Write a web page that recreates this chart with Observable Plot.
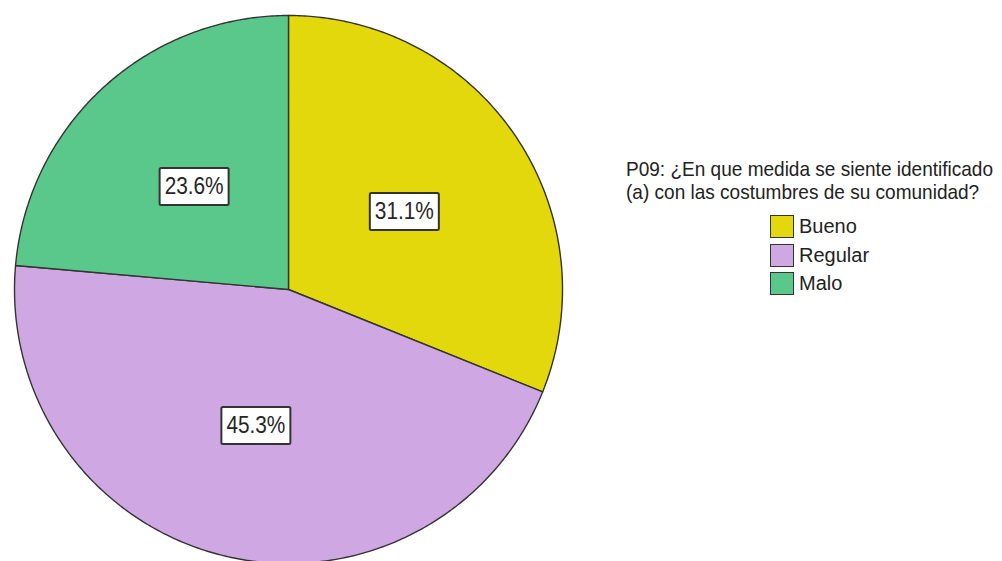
<!DOCTYPE html>
<html>
<head>
<meta charset="utf-8">
<script src="https://cdn.jsdelivr.net/npm/d3@7"></script>
<script src="https://cdn.jsdelivr.net/npm/@observablehq/plot@0.6"></script>
<style>
  html, body { margin: 0; padding: 0; background: #fff; }
  #wrap { position: relative; width: 1002px; height: 561px; overflow: hidden; font-family: "Liberation Sans", Arial, sans-serif; }
  #legend { position: absolute; left: 626px; top: 157px; color: #222; }
  #legend .title { font-size: 21px; line-height: 23px; white-space: nowrap; display: block; width: max-content; transform-origin: 0 50%; }
  #legend .item { position: absolute; left: 144px; height: 23px; white-space: nowrap; font-size: 20px; line-height: 23px; }
  #legend .sw { display: inline-block; width: 24px; height: 23px; border: 1.5px solid #333; vertical-align: top; margin-right: 5px; box-sizing: border-box; }
</style>
</head>
<body>
<div id="wrap"></div>
<script>
const categories = ["Bueno", "Regular", "Malo"];
const percents = [31.1, 45.3, 23.6];
const colors = ["#e3d80b", "#cfa8e3", "#5bc88b"];
const legendTitle = ["P09: ¿En que medida se siente identificado", "(a) con las costumbres de su comunidad?"];

const pie = d3.pie().sort(null).value(d => d)(percents);

// slice outlines built from the pie angles
const slicePts = [];
pie.forEach((s, i) => {
  const cat = categories[i];
  slicePts.push({cat, x: 0, y: 0});
  const n = Math.max(2, Math.ceil((s.endAngle - s.startAngle) / 0.01));
  for (let k = 0; k <= n; k++) {
    const a = s.startAngle + (s.endAngle - s.startAngle) * k / n;
    slicePts.push({cat, x: Math.sin(a), y: Math.cos(a)});
  }
});

const labels = pie.map((s, i) => {
  const a = (s.startAngle + s.endAngle) / 2;
  return {cat: categories[i], x: 0.51 * Math.sin(a), y: 0.51 * Math.cos(a), text: percents[i].toFixed(1) + "%"};
});

const chart = Plot.plot({
  width: 1002,
  height: 561,
  x: {domain: [-1, 1], range: [14, 562], axis: null},
  y: {domain: [-1, 1], range: [563, 15], axis: null},
  color: {domain: categories, range: colors},
  style: {background: "transparent", overflow: "visible"},
  marks: [
    Plot.line(slicePts, {x: "x", y: "y", z: "cat", fill: "cat", stroke: "#333", strokeWidth: 1.4, curve: "linear-closed"}),
    Plot.text(labels, {x: "x", y: "y", text: "text", fontSize: 24, fill: "#262626", fontFamily: "Liberation Sans, Arial, sans-serif"})
  ]
});

const wrap = document.getElementById("wrap");
wrap.appendChild(chart);

// condensed labels with white boxes behind them
chart.querySelectorAll('g[aria-label="text"] text').forEach(t => {
  t.setAttribute("textLength", "59");
  t.setAttribute("lengthAdjust", "spacingAndGlyphs");
  const b = t.getBBox();
  const cx = b.x + b.width / 2, cy = b.y + b.height / 2;
  const r = document.createElementNS("http://www.w3.org/2000/svg", "rect");
  const w = 69, h = 37;
  r.setAttribute("x", cx - w / 2);
  r.setAttribute("y", cy - h / 2 + 1);
  r.setAttribute("width", w);
  r.setAttribute("height", h);
  r.setAttribute("fill", "#fff");
  r.setAttribute("stroke", "#333");
  r.setAttribute("stroke-width", "2");
  r.setAttribute("rx", "1.5");
  const tr = t.getAttribute("transform");
  if (tr) r.setAttribute("transform", tr);
  t.parentNode.insertBefore(r, t);
});

// legend
const color = chart.scale("color");
const legend = document.createElement("div");
legend.id = "legend";
const titleDivs = legendTitle.map(line => {
  const d = document.createElement("div");
  d.className = "title";
  d.textContent = line;
  legend.appendChild(d);
  return d;
});
categories.forEach((c, i) => {
  const item = document.createElement("div");
  item.className = "item";
  item.style.top = (58 + i * 28.5) + "px";
  const sw = document.createElement("span");
  sw.className = "sw";
  sw.style.background = color.apply(c);
  item.appendChild(sw);
  const lab = document.createElement("span");
  lab.textContent = c;
  item.appendChild(lab);
  legend.appendChild(item);
});
wrap.appendChild(legend);
const k = 367 / titleDivs[0].getBoundingClientRect().width;
titleDivs.forEach(d => d.style.transform = `scaleX(${k})`);
</script>
</body>
</html>
